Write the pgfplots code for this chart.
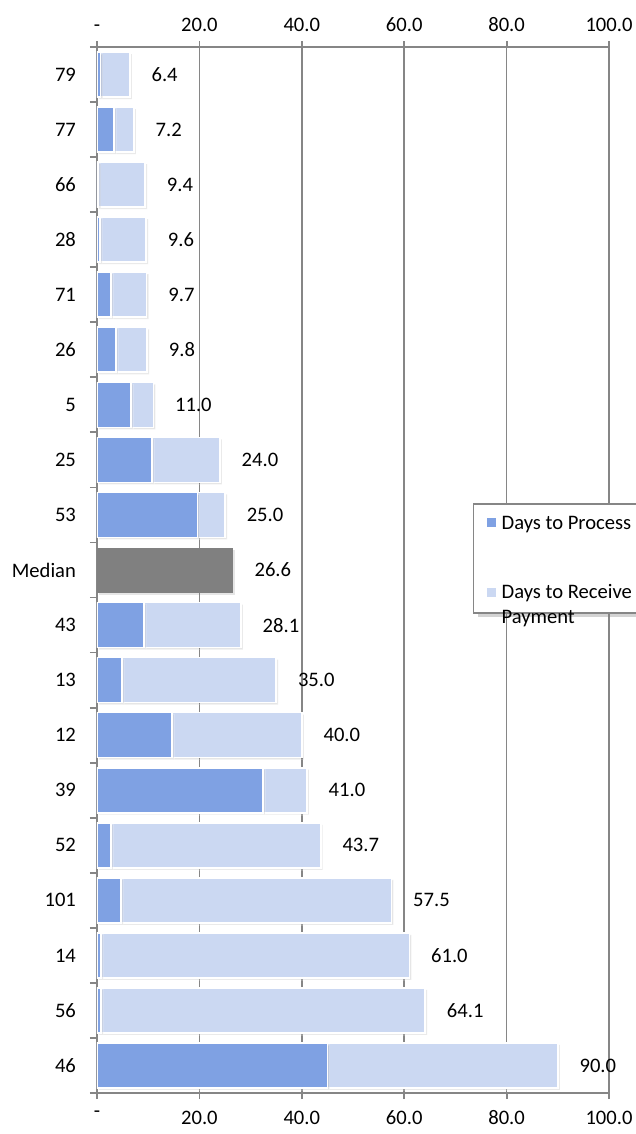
\documentclass[border=0pt]{standalone}
\usepackage{pgfplots}
\pgfplotsset{compat=1.18}
\usepackage{pgfplotstable}
\usepackage{fontspec}
\setmainfont{Carlito}
\usetikzlibrary{shadows}

\definecolor{procblue}{RGB}{127,161,227}
\definecolor{recvblue}{RGB}{203,216,242}
\definecolor{medgray}{RGB}{128,128,128}
\definecolor{gridgray}{RGB}{134,134,134}

% idx: row from top, med: median bar, proc: days to process,
% recv: days to receive payment, total: label at the end of the bar
\pgfplotstableread{
idx med  proc recv total
0   0    0.7  5.7  6.4
1   0    3.3  3.9  7.2
2   0    0.3  9.1  9.4
3   0    0.6  9.0  9.6
4   0    2.7  7.0  9.7
5   0    3.7  6.1  9.8
6   0    6.6  4.4  11.0
7   0    10.7 13.3 24.0
8   0    19.6 5.4  25.0
9   26.6 0    0    26.6
10  0    9.2  18.9 28.1
11  0    4.9  30.1 35.0
12  0    14.6 25.4 40.0
13  0    32.4 8.6  41.0
14  0    2.7  41.0 43.7
15  0    4.7  52.8 57.5
16  0    0.8  60.2 61.0
17  0    0.8  63.3 64.1
18  0    45.0 45.0 90.0
}\datatable

\pgfplotsset{
    totallabel/.style={
        visualization depends on={\thisrow{#1} \as \segw},
        nodes near coords, point meta=explicit symbolic,
        every node near coord/.append style={anchor=west, inner sep=0pt,
            xshift={10.5pt+1.28pt*\segw}, text=black,
            font=\fontsize{10.3}{12.5}\selectfont}},
}

\begin{document}
\begin{tikzpicture}[font=\fontsize{10.3}{12.5}\selectfont]
\begin{axis}[
    name=ax,
    width=256pt, height=523pt, scale only axis,
    xbar stacked, bar width=22.5pt,
    xmin=0, xmax=100, ymin=-0.5, ymax=18.5, y dir=reverse,
    xtick={0,20,...,100}, xticklabels={-,20.0,40.0,60.0,80.0,100.0},
    xtick pos=both, xticklabel pos=lower,
    ytick={0,...,18},
    yticklabels={79,77,66,28,71,26,5,25,53,Median,43,13,12,39,52,101,14,56,46},
    ytick pos=left, minor ytick={-0.5,0.5,...,18.5},
    major y tick style={draw=none},
    tick align=outside, major tick length=3pt, minor tick length=3.5pt,
    tick style={gridgray, line width=0.9pt},
    axis line style={gridgray, line width=0.9pt},
    xmajorgrids, major grid style={gridgray, line width=0.8pt},
    xticklabel shift=2.3pt,
    yticklabel style={xshift=-4pt},
    tick label style={font=\fontsize{10.3}{12.5}\selectfont},
    legend cell align=left,
    legend style={at={(0.734,0.564)}, anchor=north west,
        draw=gridgray, line width=0.8pt, fill=white,
        drop shadow={shadow xshift=2pt, shadow yshift=-2pt, opacity=0.35},
        row sep=22pt, column sep=1pt, inner xsep=6.5pt, inner ysep=4pt,
        cells={anchor=base west},
        font=\fontsize{10.3}{12.8}\selectfont},
    every axis plot/.append style={
        drop shadow={shadow xshift=1pt, shadow yshift=-1pt, opacity=0.2}},
]
% labels sit at the middle of a stacked segment, so totallabel pushes them by half of it
\addplot[fill=medgray, draw=none, forget plot, totallabel=med]
    table[x=med, y=idx, meta=total] {\datatable};
\addplot[fill=procblue, draw=white, line width=0.8pt,
    legend image code/.code={\pgfsetfillcolor{procblue}%
        \pgfpathrectangle{\pgfpoint{0pt}{0.8pt}}{\pgfpoint{4.5pt}{4.5pt}}%
        \pgfusepath{fill}}]
    table[x=proc, y=idx] {\datatable};
\addlegendentry{Days to Process}
\addplot[fill=recvblue, draw=white, line width=0.8pt,
    legend image code/.code={\pgfsetfillcolor{recvblue}%
        \pgfpathrectangle{\pgfpoint{0pt}{0.8pt}}{\pgfpoint{4.5pt}{4.5pt}}%
        \pgfusepath{fill}},
    totallabel=recv]
    table[x=recv, y=idx, meta=total] {\datatable};
\addlegendentry{\vtop{\hbox{Days to Receive}\hbox{Payment}}}
\end{axis}
% top tick labels
\begin{axis}[
    width=256pt, height=523pt, scale only axis,
    xmin=0, xmax=100, ymin=0, ymax=1,
    axis x line*=top, axis y line=none,
    axis line style={draw=none},
    xtick={0,20,...,100}, xticklabels={-,20.0,40.0,60.0,80.0,100.0},
    major tick length=0pt, xticklabel shift=4pt,
    tick label style={font=\fontsize{10.3}{12.5}\selectfont},
]
\end{axis}
\pgfresetboundingbox
\useasboundingbox ([xshift=-48.5pt, yshift=23.5pt]ax.north west)
    rectangle ([xshift=13.5pt, yshift=-20.5pt]ax.south east);
\end{tikzpicture}
\end{document}
